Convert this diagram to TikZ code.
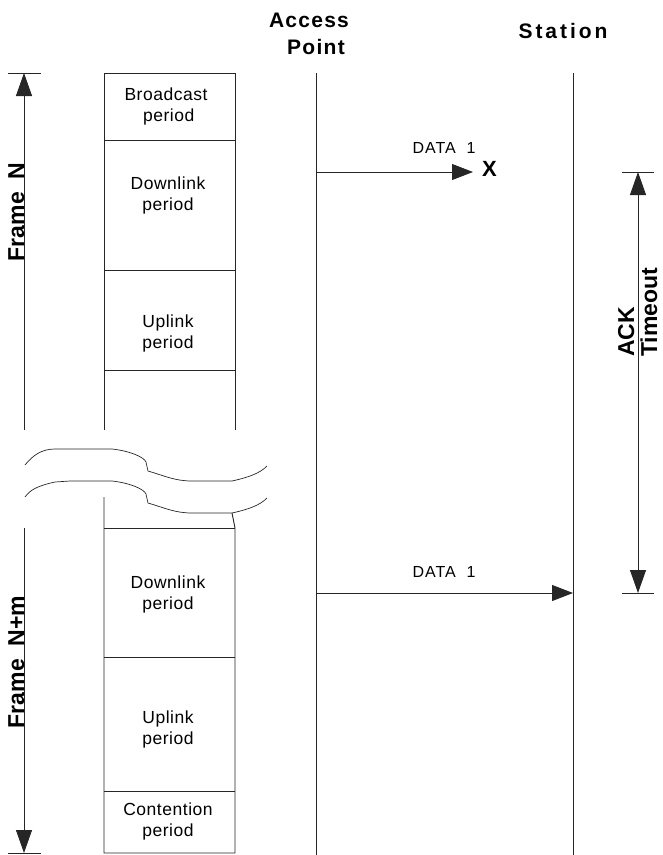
\documentclass[tikz,border=0pt]{standalone}
\usepackage{fontspec}
\setmainfont{Liberation Sans}
\newfontfamily\spacedfont[LetterSpace=6]{Liberation Sans}
\newfontfamily\widefont[LetterSpace=14]{Liberation Sans}
\newfontfamily\boxfont[LetterSpace=3]{Liberation Sans}
\usetikzlibrary{arrows.meta}
\tikzset{
  ln/.style={line width=0.9pt, draw=black!85},
  big/.style={-{Triangle[length=23pt,width=16pt]}, ln},
  msg/.style={-{Triangle[length=21pt,width=16pt]}, ln},
  boxtxt/.style={align=center, font=\fontsize{17.5}{21}\selectfont\boxfont, inner sep=0pt},
  lbl/.style={font=\fontsize{23}{27}\selectfont\bfseries, inner sep=0pt},
  hdr/.style={font=\fontsize{21}{27}\selectfont\spacedfont\bfseries, inner sep=0pt, align=center},
  small/.style={font=\fontsize{16}{18}\selectfont\spacedfont, inner sep=0pt}
}
\begin{document}
\begin{tikzpicture}[x=1pt,y=-1pt]
\useasboundingbox (0,0) rectangle (663,855);
% headers
\node[hdr, anchor=base] (hA) at (309,27) {Access};
\node[hdr, anchor=base] (hP) at (316,54) {Point};
\node[hdr, font=\fontsize{21}{27}\selectfont\widefont\bfseries, anchor=base] (hS) at (563,38) {Station};
% lifelines
\coordinate (ap1) at (316,73); \coordinate (ap2) at (316,855);
\coordinate (st1) at (573,73); \coordinate (st2) at (573,855);
\draw[ln] (ap1) -- (ap2);
\draw[ln] (st1) -- (st2);
% top frame column
\draw[ln] (104,430) -- (104,73) -- (235,73) -- (235,430);
\draw[ln] (104,140) -- (235,140);
\draw[ln] (104,270) -- (235,270);
\draw[ln] (104,370) -- (235,370);
\node[boxtxt] (bc) at (166,106) {Broadcast\\\ period};
\node[boxtxt] (dl1) at (168,195) {Downlink\\period};
\node[boxtxt] (ul1) at (168,333) {Uplink\\period};
% break waves
\draw[ln, line width=0.7pt] (25,465) .. controls (33,455) and (42,449) .. (55,449) -- (112,449)
  .. controls (130,451) and (144,457) .. (146,462) -- (148,471)
  .. controls (165,476) and (175,481) .. (192,481) -- (232,481)
  .. controls (250,477) and (260,473) .. (267,466);
\draw[ln, line width=0.7pt] (25,497) .. controls (30,490) and (37,486) .. (55,482) -- (70,481) -- (112,481)
  .. controls (130,483) and (144,489) .. (146,494) -- (148,503)
  .. controls (165,508) and (175,513) .. (192,513) -- (232,513)
  .. controls (250,509) and (260,505) .. (267,498);
% bottom frame column
\draw[ln] (104,497) -- (104,853) -- (235,853) -- (235,528) -- (232,513);
\draw[ln] (104,528) -- (235,528);
\draw[ln] (104,657) -- (235,657);
\draw[ln] (104,791) -- (235,791);
\node[boxtxt] (dl2) at (168,594) {Downlink\\period};
\node[boxtxt] (ul2) at (168,729) {Uplink\\period};
\node[boxtxt] (ct) at (168,821) {Contention\\period};
% Frame N arrow
\coordinate (fa1) at (24,430); \coordinate (fa2) at (24,73);
\draw[big] (fa1) -- (fa2);
\draw[ln] (8,73) -- (41,73);
\node[lbl, rotate=90, anchor=base] (fN) at (24,212) {Frame\ \ N};
% Frame N+m arrow
\coordinate (fb1) at (24,528); \coordinate (fb2) at (24,853);
\draw[big] (fb1) -- (fb2);
\draw[ln] (8,853) -- (41,853);
\node[lbl, rotate=90, anchor=base] (fNm) at (24,662) {Frame\ \ N+m};
% first message (lost)
\coordinate (m1e) at (473,172);
\draw[msg] (316,172) -- (m1e);
\node[small, anchor=base] (d1) at (444,153) {DATA\ \ 1};
\node[lbl, font=\fontsize{22}{25}\selectfont\bfseries, anchor=west] (x) at (482,169) {X};
% second message
\coordinate (m2s) at (316,593);
\draw[msg] (m2s) -- (573,593);
\node[small, anchor=base] (d2) at (444,577) {DATA\ \ 1};
% ACK timeout
\coordinate (t1) at (638,172); \coordinate (t2) at (638,593);
\draw[{Triangle[length=23pt,width=16pt]}-{Triangle[length=23pt,width=16pt]}, ln] (t1) -- (t2);
\draw[ln] (622,172) -- (654,172);
\draw[ln] (622,593) -- (654,593);
\node[lbl, rotate=90, anchor=base west] (ack) at (634,357) {ACK};
\node[lbl, rotate=90, anchor=base west] (to) at (657,357) {Timeout};
\end{tikzpicture}
\end{document}
